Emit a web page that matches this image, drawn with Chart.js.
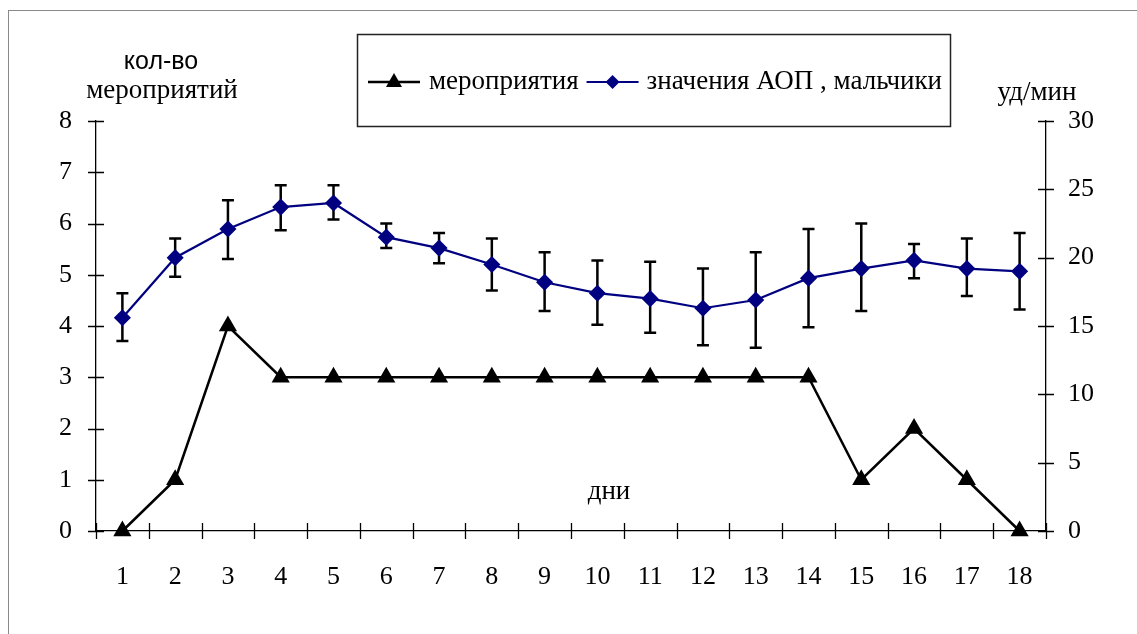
<!DOCTYPE html>
<html>
<head>
<meta charset="utf-8">
<script src="https://cdn.jsdelivr.net/npm/chart.js@4"></script>
<style>
html, body { margin: 0; padding: 0; background: #fff; }
#wrap { position: relative; width: 1137px; height: 634px; overflow: hidden; }
#frame { position: absolute; left: 8px; top: 10px; width: 1140px; height: 640px; border: 1px solid #8a8a8a; }
canvas { position: absolute; left: 0; top: 0; }
</style>
</head>
<body>
<div id="wrap">
  <div id="frame"></div>
  <canvas id="chart" width="1137" height="634"></canvas>
</div>
<script>
// DATA
const days = ['1','2','3','4','5','6','7','8','9','10','11','12','13','14','15','16','17','18'];
const events = [0, 1, 4, 3, 3, 3, 3, 3, 3, 3, 3, 3, 3, 3, 1, 2, 1, 0];
const aopMean  = [15.6, 20.0, 22.1, 23.7, 24.0, 21.5, 20.7, 19.5, 18.2, 17.4, 17.0, 16.3, 16.9, 18.5, 19.2, 19.8, 19.2, 19.0];
const aopUpper = [17.4, 21.4, 24.2, 25.3, 25.3, 22.5, 21.8, 21.4, 20.4, 19.8, 19.7, 19.2, 20.4, 22.1, 22.5, 21.0, 21.4, 21.8];
const aopLower = [13.9, 18.6, 19.9, 22.0, 22.8, 20.7, 19.6, 17.6, 16.1, 15.1, 14.5, 13.6, 13.4, 14.9, 16.1, 18.5, 17.2, 16.2];

const leftTicks = [0, 1, 2, 3, 4, 5, 6, 7, 8];
const rightTicks = [0, 5, 10, 15, 20, 25, 30];

const serif = "'Liberation Serif', 'Times New Roman', serif";
const sans = "'Liberation Sans', Arial, sans-serif";
const navy = '#000080';

// error bars for the AOP series, drawn with the chart's own scales
const errorBars = {
  id: 'errorBars',
  beforeDatasetsDraw(chart) {
    const ctx = chart.ctx;
    const x = chart.scales.x, y1 = chart.scales.y1;
    ctx.save();
    ctx.strokeStyle = '#000';
    ctx.lineWidth = 2.5;
    aopMean.forEach((m, i) => {
      const px = x.getPixelForValue(i);
      const top = y1.getPixelForValue(aopUpper[i]);
      const bot = y1.getPixelForValue(aopLower[i]);
      ctx.beginPath();
      ctx.moveTo(px, top); ctx.lineTo(px, bot);
      ctx.moveTo(px - 6, top); ctx.lineTo(px + 6, top);
      ctx.moveTo(px - 6, bot); ctx.lineTo(px + 6, bot);
      ctx.stroke();
    });
    ctx.restore();
  }
};

// cross ticks on the axes, texts and the legend box
const decorations = {
  id: 'decorations',
  afterDraw(chart) {
    const ctx = chart.ctx;
    const area = chart.chartArea;
    const x = chart.scales.x, y = chart.scales.y, y1 = chart.scales.y1;
    ctx.save();
    ctx.strokeStyle = '#000';
    ctx.lineWidth = 1.3;
    ctx.beginPath();
    leftTicks.forEach(v => {
      const py = Math.round(y.getPixelForValue(v)) + 0.5;
      ctx.moveTo(area.left - 8, py); ctx.lineTo(area.left + 8, py);
    });
    rightTicks.forEach(v => {
      const py = Math.round(y1.getPixelForValue(v)) + 0.5;
      ctx.moveTo(area.right - 8, py); ctx.lineTo(area.right + 8, py);
    });
    const n = days.length;
    for (let i = 0; i <= n; i++) {
      let px;
      if (i == 0) px = area.left;
      else if (i == n) px = area.right;
      else px = (x.getPixelForValue(i - 1) + x.getPixelForValue(i)) / 2;
      px = Math.round(px) + 0.5;
      ctx.moveTo(px, area.bottom - 8); ctx.lineTo(px, area.bottom + 8);
    }
    ctx.stroke();

    // axis titles
    ctx.fillStyle = '#000';
    ctx.textBaseline = 'middle';
    ctx.textAlign = 'center';
    ctx.font = '25px ' + sans;
    ctx.fillText('кол-во', 161, 62);
    ctx.font = '27px ' + serif;
    ctx.fillText('мероприятий', 162, 91);
    ctx.fillText('уд/мин', 1037, 93);
    ctx.fillText('дни', 609, 492);

    // legend
    ctx.strokeStyle = '#222';
    ctx.lineWidth = 1.5;
    ctx.strokeRect(357.5, 34.5, 593, 92);
    const ly = 82;
    ctx.textAlign = 'left';
    ctx.lineWidth = 2.5;
    ctx.strokeStyle = '#000';
    ctx.beginPath(); ctx.moveTo(368, ly); ctx.lineTo(420, ly); ctx.stroke();
    ctx.beginPath();
    ctx.moveTo(394, ly - 9); ctx.lineTo(402, ly + 5); ctx.lineTo(386, ly + 5); ctx.closePath();
    ctx.fill();
    ctx.fillText('мероприятия', 429, ly);
    let x2 = 429 + ctx.measureText('мероприятия').width + 8;
    ctx.strokeStyle = navy;
    ctx.lineWidth = 2.2;
    ctx.beginPath(); ctx.moveTo(x2, ly); ctx.lineTo(x2 + 52, ly); ctx.stroke();
    ctx.fillStyle = navy;
    ctx.beginPath();
    ctx.moveTo(x2 + 26, ly - 7); ctx.lineTo(x2 + 33, ly); ctx.lineTo(x2 + 26, ly + 7); ctx.lineTo(x2 + 19, ly);
    ctx.closePath(); ctx.fill();
    ctx.fillStyle = '#000';
    ctx.fillText('значения АОП , мальчики', x2 + 60, ly);
    ctx.restore();
  }
};

const config = {
  type: 'line',
  data: {
    labels: days,
    datasets: [{
      label: 'мероприятия',
      data: events,
      yAxisID: 'y',
      borderColor: '#000',
      backgroundColor: '#000',
      borderWidth: 2.5,
      pointStyle: 'triangle',
      pointRadius: 8,
      pointBackgroundColor: '#000',
      pointBorderColor: '#000',
      tension: 0,
      clip: false
    },
    {
      label: 'значения АОП , мальчики',
      data: aopMean,
      yAxisID: 'y1',
      borderColor: navy,
      backgroundColor: navy,
      borderWidth: 2.2,
      pointStyle: 'rectRot',
      pointRadius: 7,
      pointBackgroundColor: navy,
      pointBorderColor: navy,
      tension: 0,
      clip: false
    }]
  },
  options: {
    responsive: false,
    animation: false,
    layout: { padding: { left: 0, right: 0, top: 121, bottom: 0 } },
    plugins: { legend: { display: false }, tooltip: { enabled: false } },
    scales: {
      x: {
        offset: true,
        grid: { display: false },
        border: { display: true, color: '#000', width: 1.3 },
        ticks: { color: '#000', font: { family: serif, size: 26 }, padding: 23, maxRotation: 0, autoSkip: false },
        afterFit(scale) { scale.height = 103; }
      },
      y: {
        position: 'left',
        min: 0, max: 8,
        grid: { display: false },
        border: { display: true, color: '#000', width: 1.3 },
        ticks: { stepSize: 1, color: '#000', font: { family: serif, size: 26 }, padding: 16 },
        afterFit(scale) { scale.width = 96; }
      },
      y1: {
        position: 'right',
        min: 0, max: 30,
        grid: { display: false },
        border: { display: true, color: '#000', width: 1.3 },
        ticks: { stepSize: 5, color: '#000', font: { family: serif, size: 26 }, padding: 14 },
        afterFit(scale) { scale.width = 91; }
      }
    }
  },
  plugins: [errorBars, decorations]
};

new Chart(document.getElementById('chart'), config);
</script>
</body>
</html>
